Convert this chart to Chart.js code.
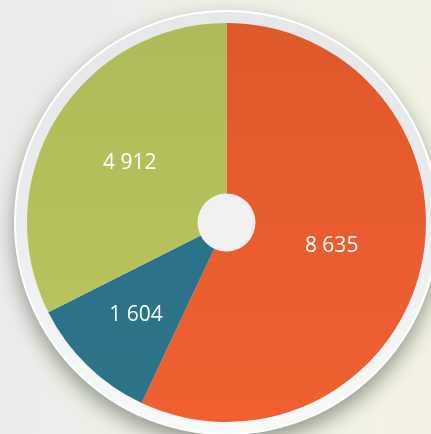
<!DOCTYPE html>
<html>
<head>
<meta charset="utf-8">
<script src="https://cdn.jsdelivr.net/npm/chart.js@4/dist/chart.umd.min.js"></script>
<style>
  html, body { margin: 0; padding: 0; }
  body {
    width: 431px; height: 434px; overflow: hidden;
    background: linear-gradient(100deg, #e9ede7 0%, #eff1e8 45%, #f4f3e2 100%);
  }
  #pie { display: block; }
</style>
</head>
<body>
<canvas id="pie" width="431" height="434"></canvas>
<script>
// --- Datos ---
const categories = ['A', 'B', 'C'];
const values = [8635, 1604, 4912];
const colorsTop = ['#e0592b', '#2a6f86', '#aebb58'];
const colorsBottom = ['#f06031', '#2d7489', '#bcc660'];
const labelRadius = [0.54, 0.65, 0.57];

function fmt(v) {
    return String(v).replace(/\B(?=(\d{3})+(?!\d))/g, ' ');
}

// --- Fondo: sombra, aro y centro ---
const ringPlugin = {
    id: 'ring',
    beforeDatasetsDraw(chart) {
        const arc = chart.getDatasetMeta(0).data[0];
        if (!arc) return;
        const ctx = chart.ctx;
        const { x, y, outerRadius: r } = arc;
        ctx.save();
        // sombra
        ctx.shadowColor = 'rgba(80,95,80,0.6)';
        ctx.shadowBlur = 20;
        ctx.shadowOffsetY = 9;
        ctx.beginPath();
        ctx.arc(x, y, r + 13, 0, Math.PI * 2);
        ctx.fillStyle = '#ffffff';
        ctx.fill();
        ctx.restore();
        // aro gris
        ctx.save();
        const g = ctx.createLinearGradient(0, y - r, 0, y + r);
        g.addColorStop(0, '#e6e7e9');
        g.addColorStop(0.5, '#ebeced');
        g.addColorStop(1, '#f8f9f9');
        ctx.beginPath();
        ctx.arc(x, y, r + 11, 0, Math.PI * 2);
        ctx.fillStyle = g;
        ctx.fill();
        ctx.restore();
    },
    afterDatasetsDraw(chart) {
        const meta = chart.getDatasetMeta(0);
        const arc = meta.data[0];
        if (!arc) return;
        const ctx = chart.ctx;
        const { x, y, outerRadius: r } = arc;
        ctx.save();
        ctx.beginPath();
        ctx.arc(x, y, 29, 0, Math.PI * 2);
        ctx.fillStyle = '#f1f1f1';
        ctx.fill();

        // etiquetas
        ctx.fillStyle = '#ffffff';
        ctx.font = '21px "Open Sans", sans-serif';
        ctx.textAlign = 'center';
        ctx.textBaseline = 'middle';
        meta.data.forEach((el, i) => {
            const mid = (el.startAngle + el.endAngle) / 2;
            const d = r * labelRadius[i];
            ctx.fillText(fmt(values[i]), x + Math.cos(mid) * d, y + Math.sin(mid) * d);
        });
        ctx.restore();
    }
};

new Chart(document.getElementById('pie').getContext('2d'), {
    type: 'pie',
    data: {
        labels: categories,
        datasets: [{
            data: values,
            borderWidth: 0,
            backgroundColor: (c) => {
                const area = c.chart.chartArea;
                if (!area) return colorsTop[c.dataIndex];
                const g = c.chart.ctx.createLinearGradient(0, area.top, 0, area.bottom);
                g.addColorStop(0, colorsTop[c.dataIndex]);
                g.addColorStop(1, colorsBottom[c.dataIndex]);
                return g;
            }
        }]
    },
    options: {
        responsive: false,
        animation: false,
        layout: { padding: { left: 27, right: 5, top: 23, bottom: 12 } },
        plugins: { legend: { display: false }, tooltip: { enabled: false } }
    },
    plugins: [ringPlugin]
});
</script>
</body>
</html>
